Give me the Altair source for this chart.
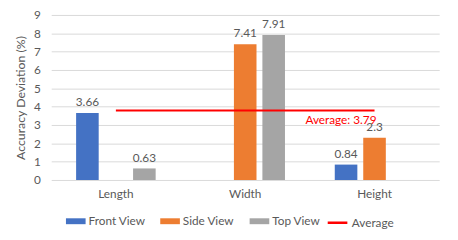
import altair as alt
import pandas as pd

categories = ["Length", "Width", "Height"]
series = ["Front View", "Side View", "Top View"]
front_view = [3.66, None, 0.84]
side_view = [None, 7.41, 2.3]
top_view = [0.63, 7.91, None]
average_value = 3.79
average_name = "Average"
average_label = "Average: 3.79"
y_ticks = [0, 1, 2, 3, 4, 5, 6, 7, 8, 9]
colors = ["#4472C4", "#ED7D31", "#A5A5A5"]

rows = []
for s, vals in zip(series, [front_view, side_view, top_view]):
    for c, v in zip(categories, vals):
        if v is not None:
            rows.append({"category": c, "series": s, "value": v, "label": f"{v:g}"})
bars_df = pd.DataFrame(rows)

avg_df = pd.DataFrame({
    "category": [categories[0], categories[-1]],
    "value": [average_value, average_value],
    "name": [average_name, average_name],
})
avg_label_df = pd.DataFrame({
    "category": [categories[-1]],
    "value": [average_value],
    "text": [average_label],
})

FONT = "Lato"
GRAY = "#595959"

x_enc = alt.X(
    "category:N",
    sort=categories,
    scale=alt.Scale(domain=categories, paddingInner=0.385, paddingOuter=0.1925),
    axis=alt.Axis(title=None, labelAngle=0, domain=False, ticks=False,
                  labelPadding=9, labelColor=GRAY, labelFontSize=12, labelFont=FONT),
)
y_enc = alt.Y(
    "value:Q",
    scale=alt.Scale(domain=[0, 9], nice=False),
    axis=alt.Axis(title="Accuracy Deviation (%)", values=y_ticks, grid=True,
                  gridColor="#d9d9d9", gridWidth=1, domain=False, ticks=False,
                  labelPadding=11, labelColor=GRAY, labelFontSize=12, labelFont=FONT,
                  titlePadding=6, titleColor=GRAY, titleFontSize=12.5,
                  titleFontWeight="normal", titleFont=FONT),
)
xoff = alt.XOffset("series:N", scale=alt.Scale(domain=series, paddingInner=0.207, paddingOuter=0))

bars = alt.Chart(bars_df).mark_bar().encode(
    x=x_enc,
    y=y_enc,
    xOffset=xoff,
    color=alt.Color(
        "series:N",
        scale=alt.Scale(domain=series, range=colors),
        legend=alt.Legend(
            title=None, orient="none", legendX=15, legendY=200, direction="horizontal",
            symbolType="M-1,-0.3H1V0.3H-1Z", symbolSize=400, symbolStrokeWidth=0,
            columnPadding=15, labelOffset=3, labelFontSize=12, labelColor=GRAY,
            labelFont=FONT, padding=0, symbolOpacity=1,
        ),
    ),
)

labels = alt.Chart(bars_df).mark_text(
    baseline="bottom", dy=-4, font=FONT, fontSize=12, color=GRAY
).encode(x=x_enc, y=y_enc, xOffset=xoff, text="label:N")

avg_line = alt.Chart(avg_df).mark_line(color="#FF0000", strokeWidth=2).encode(
    x=x_enc,
    y=y_enc,
    strokeDash=alt.StrokeDash(
        "name:N",
        scale=alt.Scale(domain=[average_name], range=[[1, 0]]),
        legend=alt.Legend(
            title=None, orient="none", legendX=280, legendY=200,
            symbolType="stroke", symbolSize=400, symbolStrokeWidth=2.5,
            symbolStrokeColor="#FF0000", labelOffset=3, labelFontSize=12,
            labelColor=GRAY, labelFont=FONT, padding=0,
        ),
    ),
)

avg_text = alt.Chart(avg_label_df).mark_text(
    align="right", baseline="top", dx=2, dy=5, font=FONT, fontSize=12, color="#FF0000"
).encode(x=x_enc, y=y_enc, text="text:N")

chart = alt.layer(bars, labels, avg_line, avg_text).properties(
    width=395,
    height=168,
    autosize=alt.AutoSizeParams(type="none"),
    padding={"left": 44, "top": 5, "right": 11, "bottom": 59},
    background="white",
).configure_view(stroke=None)

chart.save("out.html", embed_options={"renderer": "svg", "actions": False})
